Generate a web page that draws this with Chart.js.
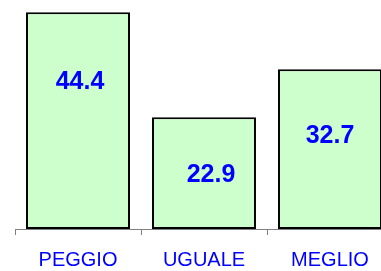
<!DOCTYPE html>
<html>
<head>
<meta charset="utf-8">
<script src="https://cdn.jsdelivr.net/npm/chart.js@4.4.1/dist/chart.umd.min.js"></script>
<style>
  html, body { margin: 0; padding: 0; background: #fff; overflow: hidden; }
  #wrap { width: 400px; height: 271px; }
</style>
</head>
<body>
<div id="wrap"><canvas id="myChart" width="400" height="271"></canvas></div>
<script>
var categories = ['PEGGIO', 'UGUALE', 'MEGLIO'];
var values = [44.4, 22.9, 32.7];
var valueLabels = ['44.4', '22.9', '32.7'];

// where each value label sits relative to the top centre of its bar
var labelShift = [[2, 70], [7, 58], [0, 67]];

var valueLabelPlugin = {
  id: 'valueLabels',
  afterDatasetsDraw: function(chart) {
    var ctx = chart.ctx;
    var meta = chart.getDatasetMeta(0);
    ctx.save();
    ctx.font = 'bold 25px "Liberation Sans", Arial, sans-serif';
    ctx.fillStyle = '#0000FF';
    ctx.textAlign = 'center';
    ctx.textBaseline = 'middle';
    meta.data.forEach(function(bar, i) {
      ctx.fillText(valueLabels[i], bar.x + labelShift[i][0], bar.y + labelShift[i][1]);
    });
    ctx.restore();
  }
};

var ctx = document.getElementById('myChart').getContext('2d');

var myChart = new Chart(ctx, {
  type: 'bar',
  data: {
    labels: categories,
    datasets: [{
      data: values,
      backgroundColor: '#CCFFCC',
      borderColor: '#000000',
      borderWidth: 2,
      borderSkipped: false,
      categoryPercentage: 1,
      barPercentage: 0.825
    }]
  },
  options: {
    responsive: false,
    animation: false,
    layout: { padding: { left: 15, right: 7, top: 0, bottom: 0 } },
    plugins: {
      legend: { display: false },
      tooltip: { enabled: false }
    },
    scales: {
      x: {
        offset: true,
        afterFit: function(scale) { scale.height = 42; },
        grid: {
          offset: true,
          drawOnChartArea: false,
          tickLength: 6,
          color: '#808080',
          lineWidth: 1
        },
        border: { color: '#808080', width: 1 },
        ticks: {
          color: '#0000FF',
          padding: 13,
          font: { family: '"Liberation Sans", Arial, sans-serif', size: 20 }
        }
      },
      y: {
        display: false,
        min: 0,
        max: 46.9
      }
    }
  },
  plugins: [valueLabelPlugin]
});
</script>
</body>
</html>
